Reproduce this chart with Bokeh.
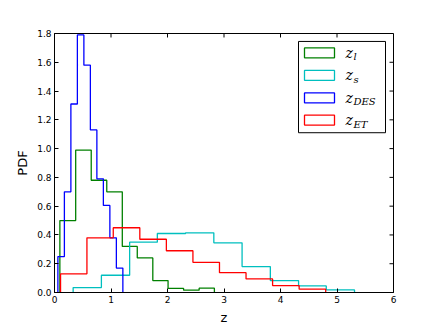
from bokeh.plotting import figure
from bokeh.models import Range1d, FixedTicker, PrintfTickFormatter
from bokeh.core.properties import value
from bokeh.embed import file_html
from bokeh.resources import INLINE

# ---- data (bin edges and PDF heights) ----
l_edges = [0.095, 0.375, 0.65, 0.925, 1.20, 1.465, 1.74, 2.01, 2.285, 2.56, 2.83]
l_heights = [0.50, 0.99, 0.78, 0.70, 0.32, 0.24, 0.083, 0.028, 0.016, 0.03]

s_edges = [0.33, 0.83, 1.33, 1.82, 2.32, 2.82, 3.32, 3.82, 4.32, 4.81, 5.31]
s_heights = [0.034, 0.12, 0.35, 0.41, 0.415, 0.345, 0.18, 0.083, 0.046, 0.018]

des_edges = [0.06, 0.175, 0.29, 0.405, 0.52, 0.635, 0.75, 0.865, 0.98, 1.095, 1.21]
des_heights = [0.25, 0.70, 1.31, 1.79, 1.58, 1.13, 0.79, 0.605, 0.38, 0.17]

et_edges = [0.107, 0.574, 1.04, 1.51, 1.98, 2.45, 2.92, 3.39, 3.86, 4.33, 4.80]
et_heights = [0.13, 0.38, 0.45, 0.37, 0.29, 0.21, 0.138, 0.094, 0.048, 0.023]

x_ticks = [0, 1, 2, 3, 4, 5, 6]
y_ticks = [0.0, 0.2, 0.4, 0.6, 0.8, 1.0, 1.2, 1.4, 1.6, 1.8]

series_names = ["l", "s", "DES", "ET"]
series_colors = ["#008000", "#00BFBF", "#0000FF", "#FF0000"]
series_edges = [l_edges, s_edges, des_edges, et_edges]
series_heights = [l_heights, s_heights, des_heights, et_heights]

X_MAX, Y_MAX = 6, 1.8

# page-pixel geometry of the plot frame
W, H = 436, 327
FL, FT, FR, FB = 54, 33, 393, 294

# ---- figure ----
p = figure(width=W, height=H, output_backend="svg", toolbar_location=None,
           x_range=Range1d(0, X_MAX), y_range=Range1d(0, Y_MAX),
           min_border_left=FL, min_border_right=W - FR, min_border_top=FT,
           min_border_bottom=H - FB)
p.background_fill_color = "white"
p.border_fill_color = "white"
p.outline_line_color = "black"
p.outline_line_width = 1
p.xgrid.visible = False
p.ygrid.visible = False

FONT = "DejaVu Sans"
for ax, ticks in ((p.xaxis[0], x_ticks), (p.yaxis[0], y_ticks)):
    ax.ticker = FixedTicker(ticks=ticks)
    ax.major_tick_in = 4
    ax.major_tick_out = 0
    ax.minor_tick_line_color = None
    ax.axis_line_color = "black"
    ax.major_label_text_font = FONT
    ax.major_label_text_font_size = "9px"
    ax.major_label_text_color = "black"
    ax.major_label_standoff = 3
    ax.axis_label_text_font = FONT
    ax.axis_label_text_font_size = "13px"
    ax.axis_label_text_font_style = "normal"
    ax.axis_label_text_color = "black"
    ax.axis_label_standoff = 4

p.yaxis[0].formatter = PrintfTickFormatter(format="%.1f")
p.xaxis[0].axis_label = "z"
p.yaxis[0].axis_label = "PDF"

def dx(px):
    return (px - FL) / (FR - FL) * X_MAX
def dy(py):
    return Y_MAX - (py - FT) / (FB - FT) * Y_MAX

# mirrored inward ticks on the top and right edges (4 px long)
tick_dx = dx(FL + 4)
tick_dy = Y_MAX - dy(FT + 4)
p.segment(x0=x_ticks, y0=[Y_MAX] * len(x_ticks), x1=x_ticks,
          y1=[Y_MAX - tick_dy] * len(x_ticks), line_color="black", line_width=1)
p.segment(x0=[X_MAX] * len(y_ticks), y0=y_ticks, x1=[X_MAX - tick_dx] * len(y_ticks),
          y1=y_ticks, line_color="black", line_width=1)

# ---- step histograms ----
def step_outline(edges, heights):
    xs, ys = [edges[0]], [0.0]
    for i, h in enumerate(heights):
        xs += [edges[i], edges[i + 1]]
        ys += [h, h]
    xs.append(edges[-1])
    ys.append(0.0)
    return xs, ys

for edges, heights, color in zip(series_edges, series_heights, series_colors):
    xs, ys = step_outline(edges, heights)
    p.line(xs, ys, line_color=color, line_width=1.3)

# ---- legend (drawn by hand to allow subscripts) ----
p.quad(left=dx(298), right=dx(385), top=dy(41), bottom=dy(133),
       fill_color="white", line_color="black", line_width=1)

row_centres = [52.5, 75.2, 97.9, 120.3]
for name, color, cy in zip(series_names, series_colors, row_centres):
    p.quad(left=dx(304), right=dx(334), top=dy(cy - 5), bottom=dy(cy + 5),
           fill_color="white", line_color=color, line_width=1.3)
    p.text(x=[dx(345)], y=[dy(cy)], text=["z"], text_font=value("DejaVu Serif"),
           text_font_style="italic", text_font_size="14px", text_color="black",
           text_baseline="middle", text_align="left")
    p.text(x=[dx(353)], y=[dy(cy + 4)], text=[name], text_font=value("DejaVu Serif"),
           text_font_style="italic", text_font_size="10px", text_color="black",
           text_baseline="middle", text_align="left")

open("out.html", "w").write(file_html(p, INLINE))
